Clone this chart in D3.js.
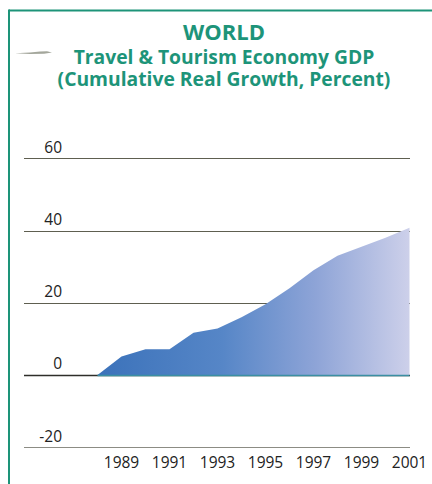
<!DOCTYPE html>
<html>
<head>
<meta charset="utf-8">
<script src="https://cdn.jsdelivr.net/npm/d3@7"></script>
<style>
  html, body { margin: 0; padding: 0; background: #ffffff; }
  svg { display: block; }
</style>
</head>
<body>
<svg id="chart" width="432" height="484"></svg>
<script>
// World Travel & Tourism Economy GDP, cumulative real growth (%)
const years = [1988, 1989, 1990, 1991, 1992, 1993, 1994, 1995, 1996, 1997, 1998, 1999, 2000, 2001];
const growth = [0, 5.1, 7.1, 7.1, 11.7, 12.9, 16.0, 19.6, 24.0, 29.0, 33.0, 35.5, 38.0, 40.8];
const yTicks = [-20, 0, 20, 40, 60];
const xTicks = [1989, 1991, 1993, 1995, 1997, 1999, 2001];
const titleLines = ["WORLD", "Travel & Tourism Economy GDP", "(Cumulative Real Growth, Percent)"];

const teal = "#1d9479";
const svg = d3.select("#chart");

// plot frame
const gridLeft = 24, gridRight = 410;
const x = d3.scaleLinear().domain([1988, 2001]).range([97.5, 409.5]);
const y = d3.scaleLinear().domain([-20, 60]).range([447.2, 158.3]);

// outer teal frame (top and left rules)
svg.append("line").attr("x1", 9).attr("x2", 432).attr("y1", 10.5).attr("y2", 10.5)
  .attr("stroke", teal).attr("stroke-width", 2);
svg.append("line").attr("x1", 9).attr("x2", 9).attr("y1", 9.5).attr("y2", 484)
  .attr("stroke", teal).attr("stroke-width", 2);

// small stray pen mark beside the subtitle
svg.append("path")
  .attr("d", "M15,53.2 L30,52.6 L40,51.4 L47,51.2 L52,52.4 L44,53.8 L30,54 Z")
  .attr("fill", "#8d9183").attr("opacity", 0.8);

// titles
const titleSizes = [22, 19.3, 19.3];
const titleY = [40, 64, 86];
svg.append("g").selectAll("text").data(titleLines).join("text")
  .attr("x", 224)
  .attr("y", (d, i) => titleY[i])
  .attr("text-anchor", "middle")
  .attr("font-family", "'Open Sans', 'Noto Sans', sans-serif")
  .attr("font-weight", 700)
  .attr("font-size", (d, i) => titleSizes[i])
  .attr("fill", teal)
  .text(d => d);

// horizontal gridlines
const grid = svg.append("g");
grid.selectAll("line").data(yTicks).join("line")
  .attr("x1", gridLeft).attr("x2", gridRight)
  .attr("y1", d => Math.round(y(d)) + 0.5).attr("y2", d => Math.round(y(d)) + 0.5)
  .attr("stroke", d => d === 0 ? "#2e2e2a" : d < 0 ? "#8c8c84" : "#5e5f50")
  .attr("stroke-width", d => d === 0 ? 1.6 : 1.1);

// y labels sit above their gridlines
svg.append("g").selectAll("text").data(yTicks).join("text")
  .attr("x", 62)
  .attr("y", d => y(d) - 5.5)
  .attr("text-anchor", "end")
  .attr("font-family", "'Open Sans', 'Noto Sans', sans-serif")
  .attr("font-size", 15.5)
  .attr("fill", "#222")
  .text(d => d);

// area fill: deep blue to pale lavender across the years
const defs = svg.append("defs");
const grad = defs.append("linearGradient").attr("id", "areaGrad")
  .attr("gradientUnits", "userSpaceOnUse")
  .attr("x1", x(1988)).attr("x2", x(2001)).attr("y1", 0).attr("y2", 0);
grad.append("stop").attr("offset", "0%").attr("stop-color", "#3b72ba");
grad.append("stop").attr("offset", "40%").attr("stop-color", "#5686c7");
grad.append("stop").attr("offset", "70%").attr("stop-color", "#8ea4d7");
grad.append("stop").attr("offset", "100%").attr("stop-color", "#cdd0ea");

const data = years.map((yr, i) => ({ yr, v: growth[i] }));
const area = d3.area()
  .x(d => x(d.yr))
  .y0(y(0))
  .y1(d => y(d.v));
svg.append("path").datum(data)
  .attr("d", area)
  .attr("fill", "url(#areaGrad)");

// baseline under the area
svg.append("line")
  .attr("x1", x(1988)).attr("x2", x(2001))
  .attr("y1", y(0) + 0.5).attr("y2", y(0) + 0.5)
  .attr("stroke", "#3b8fa3").attr("stroke-width", 1.4);

// year labels
svg.append("g").selectAll("text").data(xTicks).join("text")
  .attr("x", d => x(d))
  .attr("y", 468)
  .attr("text-anchor", "middle")
  .attr("font-family", "'Open Sans', 'Noto Sans', sans-serif")
  .attr("font-size", 15.5)
  .attr("fill", "#222")
  .text(d => d);
</script>
</body>
</html>
